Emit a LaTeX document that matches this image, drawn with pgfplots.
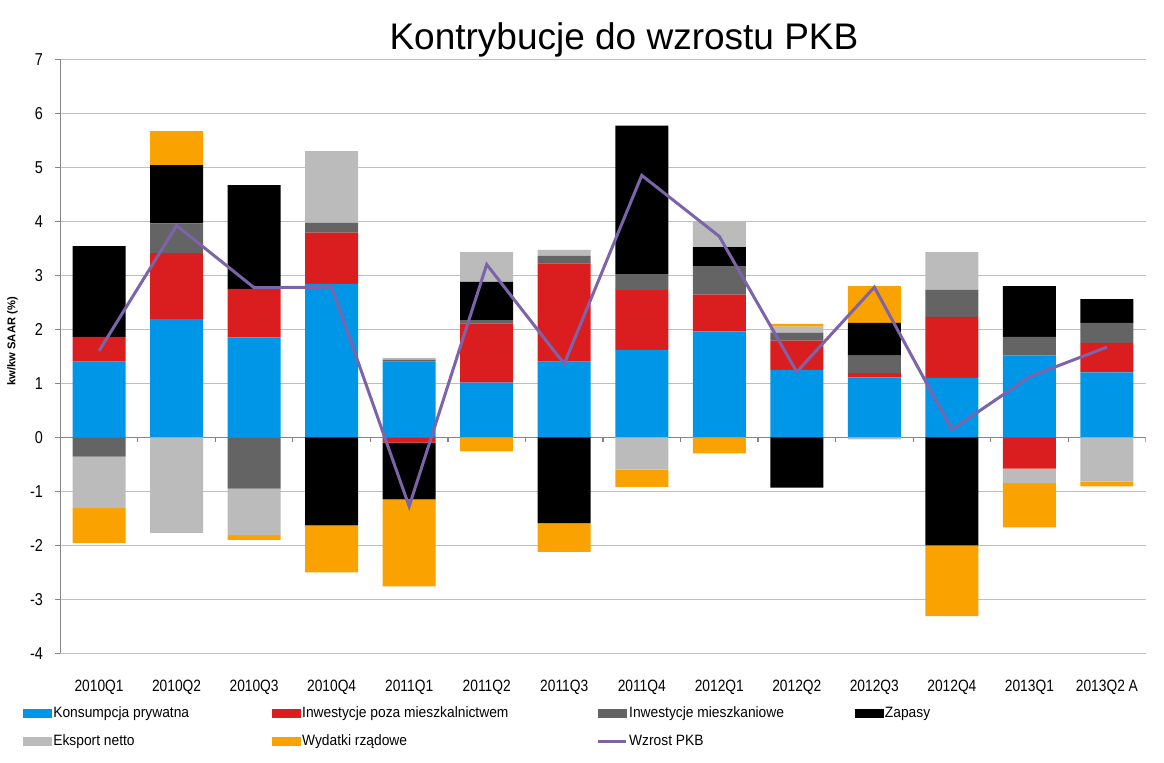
\documentclass[border=0pt]{standalone}
\usepackage{fontspec}
\setmainfont{Liberation Sans}
\newfontfamily\nf{Liberation Sans}[FakeStretch=0.84]
\newfontfamily\lf{Liberation Sans}[FakeStretch=0.92]
\usepackage{pgfplots}
\pgfplotsset{compat=1.18}
\usepackage{pgfplotstable}

\definecolor{cKons}{RGB}{0,150,232}
\definecolor{cInw}{RGB}{218,30,32}
\definecolor{cMiesz}{RGB}{100,100,100}
\definecolor{cZap}{RGB}{0,0,0}
\definecolor{cEks}{RGB}{187,187,187}
\definecolor{cWyd}{RGB}{250,163,0}
\definecolor{cLine}{RGB}{125,99,169}
\definecolor{gridgray}{RGB}{190,190,190}
\definecolor{axisgray}{RGB}{134,134,134}

% positive parts of contributions
\pgfplotstableread{
x c1 c2 c3 c4 c5 c6
0 1.40 0.46 0.00 1.68 0.00 0.00
1 2.19 1.22 0.55 1.08 0.00 0.63
2 1.85 0.90 0.00 1.92 0.00 0.00
3 2.84 0.95 0.18 0.00 1.33 0.00
4 1.40 0.00 0.04 0.00 0.03 0.00
5 1.01 1.10 0.06 0.71 0.55 0.00
6 1.40 1.82 0.14 0.00 0.11 0.00
7 1.62 1.11 0.29 2.75 0.00 0.00
8 1.96 0.68 0.53 0.35 0.47 0.00
9 1.25 0.54 0.15 0.00 0.11 0.05
10 1.11 0.08 0.32 0.61 0.00 0.68
11 1.10 1.13 0.50 0.00 0.70 0.00
12 1.51 0.00 0.35 0.94 0.00 0.00
13 1.20 0.55 0.37 0.44 0.00 0.00
}\posdata

% negative parts of contributions
\pgfplotstableread{
x c1 c2 c3 c4 c5 c6
0 0 0.00 -0.36 0.00 -0.95 -0.65
1 0 0.00 0.00 0.00 -1.77 0.00
2 0 0.00 -0.95 0.00 -0.86 -0.09
3 0 0.00 0.00 -1.63 0.00 -0.87
4 0 -0.10 0.00 -1.05 0.00 -1.61
5 0 0.00 0.00 0.00 0.00 -0.26
6 0 0.00 0.00 -1.59 0.00 -0.53
7 0 0.00 0.00 0.00 -0.60 -0.32
8 0 0.00 0.00 0.00 0.00 -0.30
9 0 0.00 0.00 -0.93 0.00 0.00
10 0 0.00 0.00 0.00 -0.04 0.00
11 0 0.00 0.00 -2.00 0.00 -1.31
12 0 -0.58 0.00 0.00 -0.27 -0.82
13 0 0.00 0.00 0.00 -0.82 -0.09
}\negdata

\pgfplotstableread{
x g
0 1.60
1 3.92
2 2.77
3 2.78
4 -1.28
5 3.20
6 1.36
7 4.85
8 3.72
9 1.21
10 2.78
11 0.14
12 1.12
13 1.67
}\gdpdata

\pgfplotsset{
  base/.style={width=542.7pt, height=297pt, scale only axis,
    xmin=-0.5, xmax=13.5, ymin=-4, ymax=7, at={(0pt,0pt)}, anchor=south west},
  barleg/.style={legend image code/.code={\fill[#1] (0pt,-2pt) rectangle (14pt,2pt);}},
}

\begin{document}
\begin{tikzpicture}
\useasboundingbox (-30.15pt,-54.85pt) rectangle (551.85pt,326.65pt);

% axis 1: frame, grid, positive stacks
\begin{axis}[base, ybar stacked, bar width=26.5pt,
  axis lines*=left, axis line style={-},
  x axis line style={draw=none},
  y axis line style={color=axisgray, line width=0.6pt},
  ytick={-4,-3,...,7}, ymajorgrids, grid style={gridgray, line width=0.6pt},
  tick align=outside, major tick length=2.5pt,
  ytick style={color=axisgray, line width=0.6pt},
  xtick={0,...,13}, xtick style={draw=none},
  xticklabels={2010Q1,2010Q2,2010Q3,2010Q4,2011Q1,2011Q2,2011Q3,2011Q4,2012Q1,2012Q2,2012Q3,2012Q4,2013Q1,2013Q2 A},
  xticklabel style={font=\nf\fontsize{8.2}{9}\selectfont, anchor=base, yshift=-16.7pt},
  /pgf/number format/assume math mode=true,
  yticklabel style={font=\nf\fontsize{8.6}{9}\selectfont, anchor=east, inner xsep=0pt, xshift=-6pt},
  ylabel={kw/kw SAAR (\%)},
  ylabel style={at={(axis description cs:-0.044,0.525)}, anchor=center, font=\bfseries\fontsize{5.6}{6}\selectfont},
  every axis title shift=0pt,
  title={Kontrybucje do wzrostu PKB},
  title style={at={(axis description cs:0.5193,1.0168)}, anchor=base, font=\fontsize{18.5}{20}\selectfont},
]
\addplot[fill=cKons, draw=none] table[x=x, y=c1] {\posdata};
\addplot[fill=cInw, draw=none] table[x=x, y=c2] {\posdata};
\addplot[fill=cMiesz, draw=none] table[x=x, y=c3] {\posdata};
\addplot[fill=cZap, draw=none] table[x=x, y=c4] {\posdata};
\addplot[fill=cEks, draw=none] table[x=x, y=c5] {\posdata};
\addplot[fill=cWyd, draw=none] table[x=x, y=c6] {\posdata};
\end{axis}

% axis 2: negative stacks and zero line
\begin{axis}[base, hide axis, ybar stacked, bar width=26.5pt]
\addplot[fill=cKons, draw=none] table[x=x, y=c1] {\negdata};
\addplot[fill=cInw, draw=none] table[x=x, y=c2] {\negdata};
\addplot[fill=cMiesz, draw=none] table[x=x, y=c3] {\negdata};
\addplot[fill=cZap, draw=none] table[x=x, y=c4] {\negdata};
\addplot[fill=cEks, draw=none] table[x=x, y=c5] {\negdata};
\addplot[fill=cWyd, draw=none] table[x=x, y=c6] {\negdata};
\draw[axisgray, line width=0.7pt] (axis cs:-0.5,0) -- (axis cs:13.5,0);
\pgfplotsinvokeforeach{0.5,1.5,2.5,3.5,4.5,5.5,6.5,7.5,8.5,9.5,10.5,11.5,12.5,13.5}{
  \draw[axisgray, line width=0.6pt] (axis cs:#1,0) -- ++(0pt,-2.5pt);
}
\end{axis}

% axis 3: GDP line and legend
\begin{axis}[base, hide axis,
  legend columns=4, legend cell align=left,
  legend style={at={(axis description cs:-0.0344,-0.0892)}, anchor=north west,
    draw=none, fill=none, inner sep=0pt, row sep=6.75pt,
    nodes={inner sep=0pt}, font=\lf\fontsize{7.5}{9}\selectfont},
]
\addlegendimage{barleg=cKons}
\addlegendentry{\makebox[110pt][l]{\rule[-1.5pt]{0pt}{7pt}\hspace{0.6pt}Konsumpcja prywatna}}
\addlegendimage{barleg=cInw}
\addlegendentry{\makebox[148pt][l]{\rule[-1.5pt]{0pt}{7pt}\hspace{0.6pt}Inwestycje poza mieszkalnictwem}}
\addlegendimage{barleg=cMiesz}
\addlegendentry{\makebox[113.5pt][l]{\rule[-1.5pt]{0pt}{7pt}\hspace{0.6pt}Inwestycje mieszkaniowe}}
\addlegendimage{barleg=cZap}
\addlegendentry{\rule[-1.5pt]{0pt}{7pt}\hspace{0.6pt}Zapasy}
\addlegendimage{barleg=cEks}
\addlegendentry{\makebox[110pt][l]{\rule[-1.5pt]{0pt}{7pt}\hspace{0.6pt}Eksport netto}}
\addlegendimage{barleg=cWyd}
\addlegendentry{\makebox[148pt][l]{\rule[-1.5pt]{0pt}{7pt}\hspace{0.6pt}Wydatki rządowe}}
\addlegendimage{legend image code/.code={\draw[cLine, line width=1.5pt] (0pt,0pt) -- (14pt,0pt);}}
\addlegendentry{\makebox[113.5pt][l]{\rule[-1.5pt]{0pt}{7pt}\hspace{0.6pt}Wzrost PKB}}
\addplot[color=cLine, line width=1.5pt, mark=none] table[x=x, y=g] {\gdpdata};
\end{axis}
\end{tikzpicture}
\end{document}
